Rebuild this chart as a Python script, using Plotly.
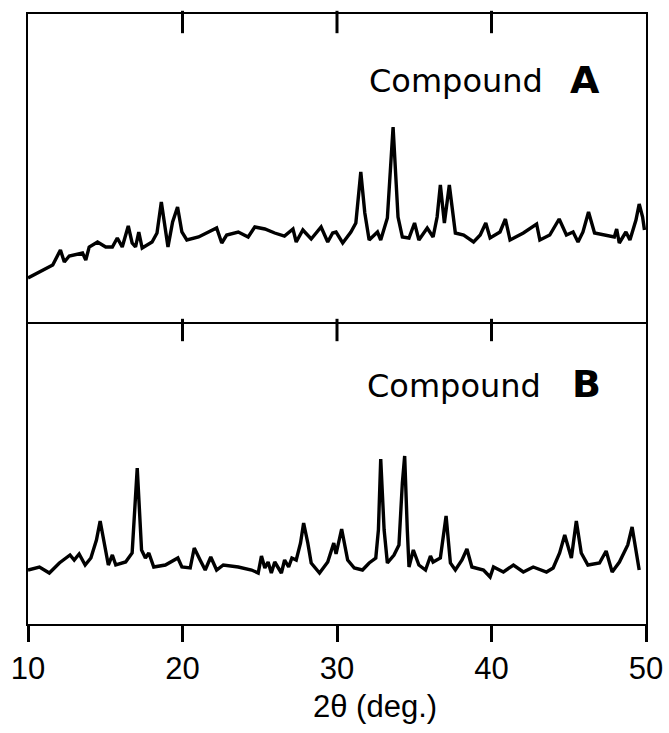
import plotly.graph_objects as go

# ---- data ----
two_theta_A = [10.0, 10.74, 11.6, 12.1, 12.35, 12.67, 13.53, 13.74, 13.96, 14.5, 15.03, 15.46,
               15.78, 16.1, 16.49, 16.74, 16.96, 17.17, 17.39, 18.03, 18.35, 18.63, 19.06, 19.36,
               19.68, 19.96, 20.28, 21.04, 21.68, 22.21, 22.54, 22.86, 23.61, 24.25, 24.68, 25.33,
               25.97, 26.6, 27.15, 27.36, 27.79, 28.33, 28.97, 29.4, 29.72, 29.94, 30.37, 30.9,
               31.22, 31.54, 31.8, 32.08, 32.62, 32.83, 33.26, 33.63, 33.95, 34.23, 34.66, 35.02,
               35.3, 35.84, 36.22, 36.48, 36.69, 36.95, 37.27, 37.66, 38.2, 38.84, 39.27, 39.63,
               39.91, 40.55, 40.9, 41.2, 42.06, 42.92, 43.13, 43.77, 44.38, 44.85, 45.28, 45.6,
               45.92, 46.28, 46.67, 47.42, 47.95, 48.1, 48.27, 48.7, 48.96, 49.35, 49.56, 49.78, 49.9]
intensity_A = [44, 50, 57, 72, 60, 66, 69, 62, 75, 80, 75, 75,
               84, 75, 96, 79, 75, 90, 74, 80, 89, 120, 75, 100,
               115, 90, 82, 85, 90, 94, 79, 87, 90, 85, 95, 93,
               89, 86, 93, 80, 92, 83, 95, 80, 89, 90, 79, 90,
               99, 150, 109, 82, 90, 82, 104, 195, 105, 85, 84, 99,
               82, 94, 85, 105, 137, 99, 137, 89, 87, 80, 87, 99,
               84, 90, 103, 82, 89, 98, 82, 87, 103, 87, 90, 80,
               90, 110, 89, 87, 85, 93, 79, 90, 82, 102, 118, 105, 92]

two_theta_B = [10.0, 10.74, 11.38, 12.03, 12.72, 12.99, 13.31, 13.7, 14.07, 14.43, 14.67, 14.92,
               15.2, 15.46, 15.68, 16.32, 16.74, 17.07, 17.35, 17.6, 17.82, 18.14, 18.89, 19.7,
               19.96, 20.5, 20.76, 21.14, 21.47, 21.83, 22.21, 22.64, 23.61, 24.47, 24.9, 25.11,
               25.33, 25.54, 25.75, 25.97, 26.4, 26.61, 26.87, 27.08, 27.36, 27.64, 27.84, 28.11,
               28.33, 28.87, 29.4, 29.79, 29.94, 30.3, 30.69, 31.12, 31.65, 32.08, 32.51, 32.68,
               32.83, 33.05, 33.26, 33.69, 34.01, 34.23, 34.38, 34.55, 34.66, 34.94, 35.3, 35.73,
               36.05, 36.22, 36.69, 37.06, 37.34, 37.66, 38.09, 38.41, 38.73, 39.48, 39.91, 40.13,
               40.77, 41.42, 42.06, 42.7, 43.56, 43.99, 44.41, 44.74, 45.17, 45.49, 45.81, 46.24,
               46.99, 47.42, 47.81, 48.28, 48.82, 49.1, 49.35, 49.56]
intensity_B = [54, 57, 51, 61, 69, 64, 70, 59, 66, 84, 103, 81,
               59, 69, 59, 62, 71, 156, 74, 66, 71, 57, 59, 66,
               57, 56, 76, 64, 54, 67, 54, 59, 57, 54, 51, 68,
               56, 62, 51, 62, 51, 64, 57, 66, 64, 81, 101, 81,
               61, 51, 62, 81, 70, 95, 64, 56, 54, 61, 66, 94,
               165, 94, 61, 69, 79, 141, 168, 94, 57, 74, 59, 54,
               68, 62, 66, 108, 61, 54, 64, 75, 57, 54, 47, 57,
               52, 59, 52, 57, 52, 56, 71, 89, 66, 103, 71, 59,
               61, 73, 52, 62, 79, 97, 71, 54]

tick_values = [10, 20, 30, 40, 50]
tick_labels = ["10", "20", "30", "40", "50"]
inner_ticks = [20, 30, 40]
label_A = ["Compound", "A"]
label_B = ["Compound", "B"]
x_title = "2θ (deg.)"

W, H = 669, 733
def px(v):
    return v / W
def py(v):
    return 1 - v / H

XDOM = [px(28), px(646)]
TOP_DOM = [py(322), py(14)]
BOT_DOM = [py(624), py(322)]
TOP_RANGE = [0, 308]   # one unit per pixel
BOT_RANGE = [0, 302]
TICK = 16  # tick length in pixels

fig = go.Figure()
line = dict(color="black", width=3.4)
fig.add_trace(go.Scatter(x=two_theta_A, y=intensity_A, mode="lines", line=line,
                         xaxis="x2", yaxis="y2", showlegend=False, hoverinfo="skip"))
fig.add_trace(go.Scatter(x=two_theta_B, y=intensity_B, mode="lines", line=line,
                         xaxis="x", yaxis="y", showlegend=False, hoverinfo="skip"))

# tick marks as vertical-line markers placed on the axis scales
tick_marker = dict(symbol="line-ns-open", size=TICK, color="black",
                   line=dict(color="black", width=3))
fig.add_trace(go.Scatter(x=inner_ticks, y=[TOP_RANGE[1] - TICK / 2] * len(inner_ticks),
                         mode="markers", marker=tick_marker, xaxis="x2", yaxis="y2",
                         showlegend=False, hoverinfo="skip", cliponaxis=False))
fig.add_trace(go.Scatter(x=inner_ticks, y=[BOT_RANGE[1] - TICK / 2] * len(inner_ticks),
                         mode="markers", marker=tick_marker, xaxis="x", yaxis="y",
                         showlegend=False, hoverinfo="skip", cliponaxis=False))
fig.add_trace(go.Scatter(x=tick_values, y=[BOT_RANGE[0] - TICK / 2] * len(tick_values),
                         mode="markers", marker=tick_marker, xaxis="x", yaxis="y",
                         showlegend=False, hoverinfo="skip", cliponaxis=False))

base_x = dict(range=[10, 50], showgrid=False, zeroline=False, showline=True,
              linecolor="black", linewidth=2, automargin=False)
base_y = dict(showgrid=False, zeroline=False, showline=True, mirror=True,
              linecolor="black", linewidth=2, ticks="", showticklabels=False,
              automargin=False)

fig.update_layout(
    template="none",
    width=W, height=H, autosize=False,
    margin=dict(l=0, r=0, t=0, b=0, pad=0),
    paper_bgcolor="white", plot_bgcolor="white",
    xaxis=dict(base_x, domain=XDOM, anchor="y", side="bottom",
               ticks="outside", ticklen=TICK, tickwidth=3, tickcolor="#000000",
               tickmode="array", tickvals=tick_values, ticktext=tick_labels,
               tickfont=dict(family="Liberation Sans", size=31, color="black"),
               ticklabelstandoff=0),
    xaxis2=dict(base_x, domain=XDOM, anchor="y2", side="bottom", mirror=True,
                ticks="", showticklabels=False),
    yaxis=dict(base_y, domain=BOT_DOM, anchor="x", range=BOT_RANGE),
    yaxis2=dict(base_y, domain=TOP_DOM, anchor="x2", range=TOP_RANGE),
)

word_font = dict(family="DejaVu Sans", size=32, color="black")
letter_font = dict(family="DejaVu Sans", size=38, color="black")
ann = [
    dict(text=label_A[0], x=px(456), y=py(81), font=word_font),
    dict(text="<b>" + label_A[1] + "</b>", x=px(585), y=py(80), font=letter_font),
    dict(text=label_B[0], x=px(454), y=py(386), font=word_font),
    dict(text="<b>" + label_B[1] + "</b>", x=px(586.5), y=py(384), font=letter_font),
    dict(text=x_title, x=px(375), y=py(706),
         font=dict(family="Liberation Sans", size=31, color="black")),
]
for a in ann:
    fig.add_annotation(xref="paper", yref="paper", showarrow=False,
                       xanchor="center", yanchor="middle", **a)

fig.write_html("out.html")
